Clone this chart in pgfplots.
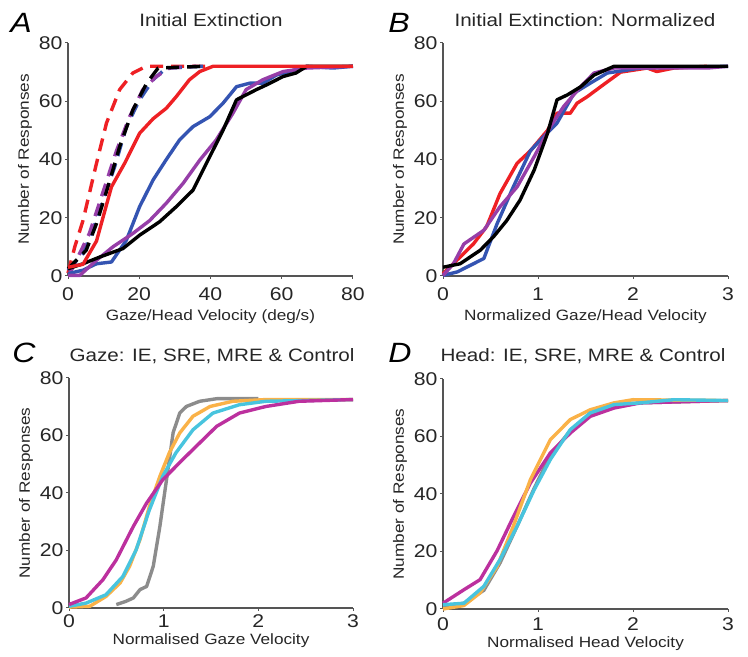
\documentclass[border=0pt]{standalone}
\usepackage{fontspec}
\setmainfont{Liberation Sans}[FakeStretch=1.15]
\usepackage{pgfplots}
\pgfplotsset{compat=1.18}

\definecolor{cRed}{RGB}{238,32,36}
\definecolor{cBlue}{RGB}{52,84,178}
\definecolor{cPurple}{RGB}{150,62,168}
\definecolor{cOrange}{RGB}{250,178,72}
\definecolor{cCyan}{RGB}{72,196,222}
\definecolor{cMagenta}{RGB}{188,48,158}
\definecolor{cGray}{RGB}{140,140,140}
\definecolor{axgray}{RGB}{85,85,85}

\pgfplotsset{
  panel/.style={
    scale only axis, width=285bp, height=233bp,
    axis lines=left, axis line style={draw=axgray, line width=1.5bp, -},
    ymin=0, ymax=80, ytick={0,20,40,60,80},
    tick align=outside, major tick length=3bp,
    tick style={draw=axgray, line width=1bp},
    tick label style={font=\fontsize{18.5}{18.5}\selectfont, text=black!85},
    yticklabel style={xshift=1bp},
    xticklabel style={yshift=-5bp},
    /pgf/number format/assume math mode=true,
    label style={font=\fontsize{15}{15}\selectfont, text=black!85},
    ylabel style={at={(axis description cs:-0.151,0.5)}, anchor=center},
    xlabel style={at={(axis description cs:0.5,-0.175)}, anchor=center},
    ylabel={Number of Responses},
    every axis plot/.append style={line width=3.4bp, line join=round},
    clip=false,
  },
  dash/.style={dash pattern=on 13bp off 8bp},
}

\begin{document}
\begin{tikzpicture}[x=1bp,y=1bp]
\useasboundingbox (0,0) rectangle (748,657);

% panel A
\begin{axis}[panel, at={(68bp,381bp)}, anchor=origin,
  xmin=0, xmax=80, xtick={0,20,40,60,80},
  xlabel={Gaze/Head Velocity (deg/s)}]
\addplot[cRed, dash] coordinates {(0,1)(1.9,10)(4.2,19)(8,38.7)(10.8,52.5)(14.5,64)(18.2,69.7)(22,72)(40,72)};
\addplot[cBlue, dash] coordinates {(0,2)(4.2,7.7)(7,15.7)(9.8,26)(13.1,37.5)(16.4,51.3)(20.1,60.5)(23.9,67.4)(27.6,71.4)(37.9,72)};
\addplot[cPurple, dash] coordinates {(0.5,0.8)(6,14.6)(10.3,30.6)(13.6,43)(17.3,54.7)(21,64)(24.8,68.5)(28.5,71.4)(36,72)};
\addplot[black, dash] coordinates {(0,2.5)(5.1,8.8)(8,18)(11.2,30.6)(14.5,44.4)(18.2,57)(22,66)(25.3,71.4)(38,72)};
\addplot[cBlue] coordinates {(0,0.8)(4.2,2)(8,4.2)(12.2,4.8)(16.4,12.3)(20.1,23.8)(23.9,33)(27.6,40)(31.3,46.7)(35.1,51.3)(39.8,54.7)(43.5,59.3)(47.3,65)(51,66.2)(54.7,66.2)(58.5,69)(62.2,70.2)(66.9,72)(74.4,71.4)(80,72)};
\addplot[cPurple] coordinates {(0,0.2)(3.3,0.2)(8,5.4)(12.6,10)(18.2,14.6)(22.9,19)(27.6,25)(32.3,31.8)(37,39.8)(41.6,46.7)(46.3,55.9)(50,64)(54.7,67.4)(60.4,70.2)(67,71.4)(80,72)};
\addplot[black] coordinates {(0,2.5)(4.2,4.2)(8.9,6.5)(15.4,9.4)(20.1,14)(25.7,18.6)(30.4,23.8)(35.1,29.5)(39.8,41)(43.5,50)(47.3,60.5)(52.9,64)(55.7,65.6)(60.4,68.5)(64,69.7)(67,72)(80,72)};
\addplot[cRed] coordinates {(0,3)(4.2,4)(8,12)(12.2,30.6)(15.9,38.7)(20.1,49)(23.9,54)(27.6,57.6)(30.4,61.6)(34.1,67.4)(37,70.2)(40.7,72)(80,72)};
\end{axis}

% panel B
\begin{axis}[panel, at={(443bp,381bp)}, anchor=origin,
  xmin=0, xmax=3, xtick={0,1,2,3},
  xlabel={Normalized Gaze/Head Velocity}]
\addplot[cRed] coordinates {(0,0.8)(0.18,6.5)(0.32,11)(0.46,17)(0.6,28.3)(0.78,38.7)(0.92,43)(1.1,50)(1.2,55.9)(1.34,55.9)(1.41,59.3)(1.52,61.6)(1.66,65)(1.87,70)(2.15,71.4)(2.25,70.2)(2.43,71.4)(2.78,72)};
\addplot[cBlue] coordinates {(0,0.2)(0.15,1.4)(0.43,6)(0.57,18)(0.74,30.6)(0.92,43)(1.06,47.9)(1.2,52.5)(1.38,62.8)(1.55,66.2)(1.73,69.7)(2.08,71.4)(3,72)};
\addplot[cPurple] coordinates {(0,0.2)(0.11,4.2)(0.22,11)(0.43,15.7)(0.6,23.8)(0.78,30.6)(0.96,41)(1.13,51.3)(1.27,58.2)(1.45,65)(1.59,69.7)(1.8,71.4)(2.78,71.4)(3,72)};
\addplot[black] coordinates {(0,3)(0.18,4.2)(0.39,8.8)(0.53,13.4)(0.67,19)(0.81,26)(0.96,36.4)(1.1,49)(1.2,60.5)(1.31,62.2)(1.45,65)(1.59,69)(1.8,72)(3,72)};
\end{axis}

% panel C
\begin{axis}[panel, at={(69bp,49bp)}, anchor=origin, width=284bp, height=230bp,
  xmin=0, xmax=3, xtick={0,1,2,3}, xticklabel style={yshift=5bp},
  xlabel style={at={(axis description cs:0.5,-0.14)}},
  xlabel={Normalised Gaze Velocity}]
\addplot[cGray] coordinates {(0.5,1.2)(0.6,2.3)(0.68,3.5)(0.75,6.4)(0.82,7.5)(0.89,14.5)(0.96,28.4)(1.03,44.6)(1.1,61)(1.17,67.8)(1.24,70.1)(1.38,71.9)(1.56,72.8)(2,72.8)};
\addplot[cOrange] coordinates {(0,0.3)(0.22,0.6)(0.39,4)(0.54,8.7)(0.64,14.5)(0.75,23.8)(0.85,35.4)(0.96,45.8)(1.06,54)(1.17,60.9)(1.31,66.7)(1.49,70.1)(1.73,71.9)(2.08,72.5)(3,72.5)};
\addplot[cCyan] coordinates {(0,0.6)(0.18,1.7)(0.39,4.6)(0.57,11)(0.71,20.3)(0.85,34.2)(0.99,45.8)(1.13,54)(1.31,62)(1.52,67.8)(1.8,70.7)(2.08,71.9)(3,72.5)};
\addplot[cMagenta] coordinates {(0,1.2)(0.18,3.5)(0.36,9.9)(0.5,16.8)(0.68,28.4)(0.82,36.5)(0.99,44.6)(1.2,51.6)(1.38,57.4)(1.56,63.2)(1.8,67.8)(2.08,70.1)(2.43,71.9)(3,72.5)};
\end{axis}

% panel D
\begin{axis}[panel, at={(443bp,48bp)}, anchor=origin, width=285bp, height=230bp,
  xmin=0, xmax=3, xtick={0,1,2,3}, xticklabel style={yshift=3bp},
  xlabel style={at={(axis description cs:0.5,-0.15)}},
  xlabel={Normalised Head Velocity}]
\addplot[cGray] coordinates {(0,1)(0.22,2)(0.43,6.5)(0.6,16)(0.78,28.8)(0.96,42)(1.13,53.5)(1.34,62)(1.55,68)(1.8,71)(2.08,71.7)(3,72.5)};
\addplot[cMagenta] coordinates {(0,2)(0.22,6.7)(0.39,10.2)(0.57,20.3)(0.74,32)(0.92,43.8)(1.13,54.3)(1.34,61.2)(1.55,67)(1.8,69.9)(2.08,71.7)(3,72.5)};
\addplot[cOrange] coordinates {(0,0)(0.22,1.2)(0.39,5.6)(0.57,14.8)(0.74,28.8)(0.92,45)(1.13,58.9)(1.34,65.9)(1.55,69.3)(1.8,71.7)(2,72.8)(3,72.5)};
\addplot[cCyan] coordinates {(0,1.5)(0.22,2)(0.43,7.9)(0.6,17.2)(0.78,28.8)(0.96,41.5)(1.13,52)(1.34,62.4)(1.55,68.2)(1.8,71.1)(2.08,71.7)(2.43,72.8)(3,72.5)};
\end{axis}

% titles and panel letters
\begin{scope}[every node/.style={font=\fontsize{18}{18}\selectfont, text=black!85}]
\node[anchor=base] at (211,630) {Initial Extinction};
\node[anchor=base] at (585,630) {Initial Extinction: Normalized};
\node[anchor=base] at (212,295) {Gaze: IE, SRE, MRE \& Control};
\node[anchor=base] at (583,295) {Head: IE, SRE, MRE \& Control};
\end{scope}
\begin{scope}[every node/.style={font=\fontsize{28}{28}\itshape, text=black}]
\node[anchor=base] at (21,624) {A};
\node[anchor=base] at (399,624) {B};
\node[anchor=base] at (24,294) {C};
\node[anchor=base] at (400,294) {D};
\end{scope}
\end{tikzpicture}
\end{document}
